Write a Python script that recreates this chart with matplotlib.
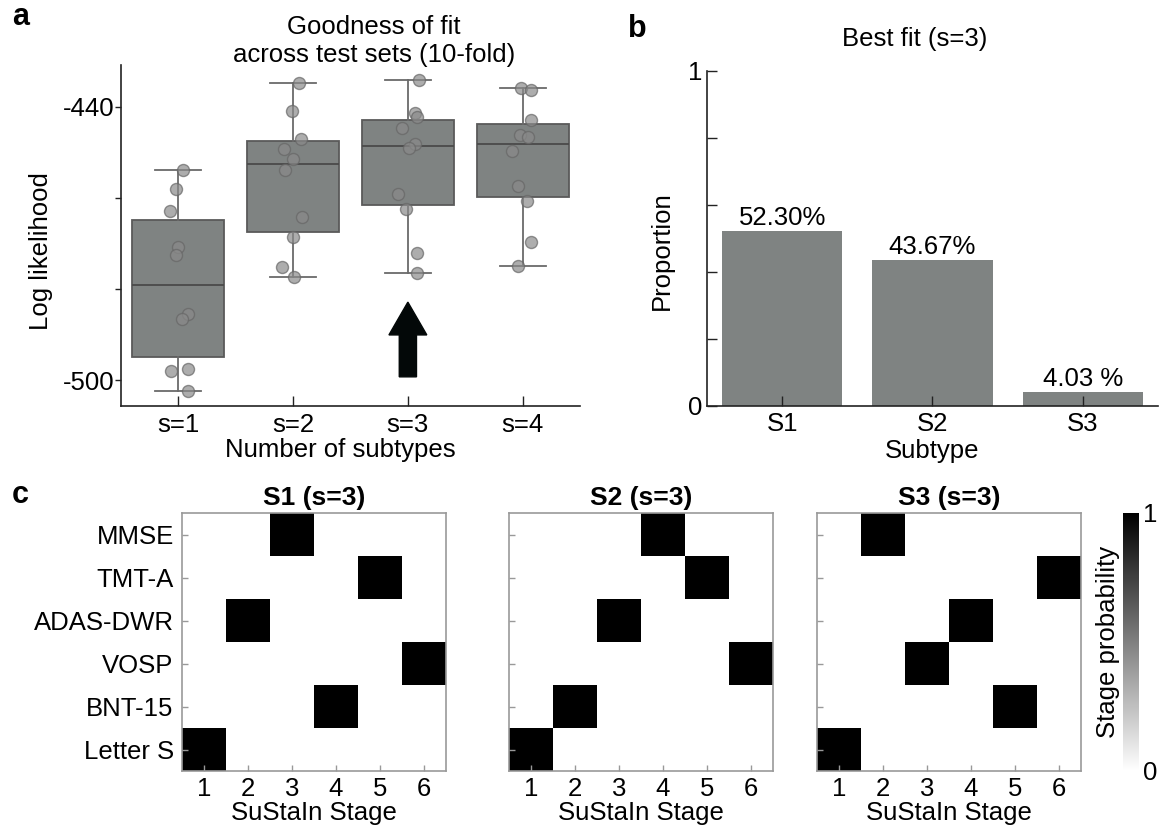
import numpy as np
import matplotlib.pyplot as plt

plt.rcParams['font.family'] = ['Liberation Sans', 'DejaVu Sans']
plt.rcParams['font.size'] = 18.5

# ---- panel a: log likelihood per fold, for each number of subtypes
n_subtypes = ['s=1', 's=2', 's=3', 's=4']
loglik_s1 = [-453.8, -458.0, -463.0, -470.8, -472.6, -485.5, -486.7, -498.0, -497.6, -502.4]
loglik_s2 = [-434.8, -441.0, -447.1, -449.2, -451.5, -453.8, -464.3, -468.7, -475.1, -477.3]
loglik_s3 = [-434.2, -441.3, -442.3, -444.7, -448.2, -449.0, -459.1, -462.4, -472.2, -476.4]
loglik_s4 = [-435.9, -436.4, -442.9, -446.2, -446.7, -449.7, -457.4, -460.6, -469.8, -474.9]
# horizontal jitter of each point
jitter_s1 = [0.04, -0.02, -0.07, 0.0, -0.02, 0.08, 0.03, -0.06, 0.08, 0.08]
jitter_s2 = [0.05, -0.01, 0.07, -0.08, 0.0, -0.07, 0.08, 0.0, -0.1, 0.01]
jitter_s3 = [0.1, 0.06, 0.08, -0.05, 0.06, 0.01, -0.09, -0.02, 0.08, 0.08]
jitter_s4 = [-0.01, 0.07, 0.07, -0.02, 0.05, -0.09, -0.04, 0.04, 0.07, -0.04]

# ---- panel b: subtype proportions
subtypes = ['S1', 'S2', 'S3']
proportions = [0.5230, 0.4367, 0.0403]
bar_labels = ['52.30%', '43.67%', '4.03 %']

# ---- panel c: stage at which each biomarker becomes abnormal
biomarkers = ['MMSE', 'TMT-A', 'ADAS-DWR', 'VOSP', 'BNT-15', 'Letter S']
stages = [1, 2, 3, 4, 5, 6]
stage_S1 = [3, 5, 2, 6, 4, 1]
stage_S2 = [4, 5, 3, 6, 2, 1]
stage_S3 = [2, 6, 4, 3, 5, 1]

W, H = 1161, 827
fig = plt.figure(figsize=(W / 100, H / 100), dpi=100)


def rect(x0, y0, x1, y1):
    return [x0 / W, 1 - y1 / H, (x1 - x0) / W, (y1 - y0) / H]


def ftext(x, y, s, **kw):
    return fig.text(x / W, 1 - y / H, s, **kw)


box_color = '#7f8382'
dark = '#222222'

# ================= a =================
ax = fig.add_axes(rect(121, 65, 580, 406))
data = [loglik_s1, loglik_s2, loglik_s3, loglik_s4]
jitters = [jitter_s1, jitter_s2, jitter_s3, jitter_s4]
pos = np.arange(1, len(data) + 1)
ax.boxplot(data, positions=pos, widths=0.8, patch_artist=True, whis=(0, 100),
           showfliers=False, capwidths=0.4,
           boxprops=dict(facecolor=box_color, edgecolor='#5a5a5a', linewidth=1.3),
           medianprops=dict(color='#4a4a4a', linewidth=1.3),
           whiskerprops=dict(color='#6a6a6a', linewidth=1.3),
           capprops=dict(color='#6a6a6a', linewidth=1.3))
for p, vals, jit in zip(pos, data, jitters):
    ax.scatter(p + np.array(jit), vals, s=75, facecolor='#8a8a8a', alpha=0.7,
               edgecolor='#666666', linewidth=1.0, zorder=3)
ax.arrow(3, -499.3, 0, 16.4, width=0.15, head_width=0.33, head_length=7.2,
         length_includes_head=True, color='#030808', zorder=4)
ax.set_xlim(0.5, 4.5)
ax.set_ylim(-505.7, -430.85)
ax.set_xticks(pos)
ax.set_xticklabels(n_subtypes)
ax.set_yticks([-500, -480, -460, -440])
ax.set_yticklabels(['-500', '', '', '-440'])
ax.tick_params(axis='y', direction='out', length=4, width=1, color=dark, pad=1)
ax.tick_params(axis='x', direction='in', length=7, width=1, color=dark, pad=5)
for s in ['top', 'right']:
    ax.spines[s].set_visible(False)
for s in ['left', 'bottom']:
    ax.spines[s].set_color(dark)
    ax.spines[s].set_linewidth(1.2)
ftext(340, 450, 'Number of subtypes', ha='center', va='center')
ftext(41, 251, 'Log likelihood', ha='center', va='center', rotation=90)
ftext(374, 61.7, 'Goodness of fit\nacross test sets (10-fold)',
      ha='center', va='baseline', linespacing=1.2)
ftext(12, 25, 'a', fontsize=22, fontweight='bold', va='baseline')

# ================= b =================
bx = fig.add_axes(rect(707, 71, 1158, 406))
xb = np.arange(len(subtypes))
bx.bar(xb, proportions, width=0.8, color=box_color)
for x, v, lab in zip(xb, proportions, bar_labels):
    bx.text(x, v + 0.003, lab, ha='center', va='bottom')
bx.set_xlim(-0.5, 2.5)
bx.set_ylim(0, 1)
bx.set_xticks(xb)
bx.set_xticklabels(subtypes)
bx.set_yticks(np.linspace(0, 1, 6))
bx.set_yticklabels(['0', '', '', '', '', '1'])
bx.tick_params(direction='in', length=7, width=1, color=dark)
bx.tick_params(axis='x', pad=4)
bx.tick_params(axis='y', pad=3)
for s in ['top', 'right']:
    bx.spines[s].set_visible(False)
for s in ['left', 'bottom']:
    bx.spines[s].set_color(dark)
    bx.spines[s].set_linewidth(1.2)
ftext(932, 451, 'Subtype', ha='center', va='center')
ftext(662, 251, 'Proportion', ha='center', va='center', rotation=90)
ftext(915, 46, 'Best fit (s=3)', ha='center', va='baseline')
ftext(628, 37, 'b', fontsize=22, fontweight='bold', va='baseline')

# ================= c =================
grey = '#999999'
heat_x = [(182, 446), (509, 773), (817, 1081)]
panels = [('S1 (s=3)', stage_S1), ('S2 (s=3)', stage_S2), ('S3 (s=3)', stage_S3)]
im = None
for i, ((x0, x1), (title, st)) in enumerate(zip(heat_x, panels)):
    hx = fig.add_axes(rect(x0, 513, x1, 771))
    prob = np.zeros((len(biomarkers), len(stages)))
    for r, s in enumerate(st):
        prob[r, stages.index(s)] = 1.0
    im = hx.imshow(prob, cmap='gray_r', vmin=0, vmax=1, aspect='auto',
                   interpolation='nearest')
    hx.set_xticks(np.arange(len(stages)))
    hx.set_xticklabels([str(s) for s in stages])
    hx.set_yticks(np.arange(len(biomarkers)))
    hx.set_yticklabels(biomarkers if i == 0 else [])
    hx.tick_params(direction='in', length=4, width=1, color=grey)
    hx.tick_params(axis='y', pad=6)
    hx.tick_params(axis='x', pad=4)
    for s in hx.spines.values():
        s.set_color(grey)
        s.set_linewidth(1.2)
    hx.set_xlabel('SuStaIn Stage', labelpad=0)
    hx.set_title(title, fontsize=19, fontweight='bold', pad=6)

cax = fig.add_axes(rect(1123, 513, 1139, 771))
cb = fig.colorbar(im, cax=cax, ticks=[0, 1])
cb.outline.set_visible(False)
cb.ax.tick_params(length=0, pad=3)
ftext(1108, 642, 'Stage probability', ha='center', va='center', rotation=90)
ftext(12, 503, 'c', fontsize=22, fontweight='bold', va='baseline')

fig.savefig('out.png', dpi=100)
